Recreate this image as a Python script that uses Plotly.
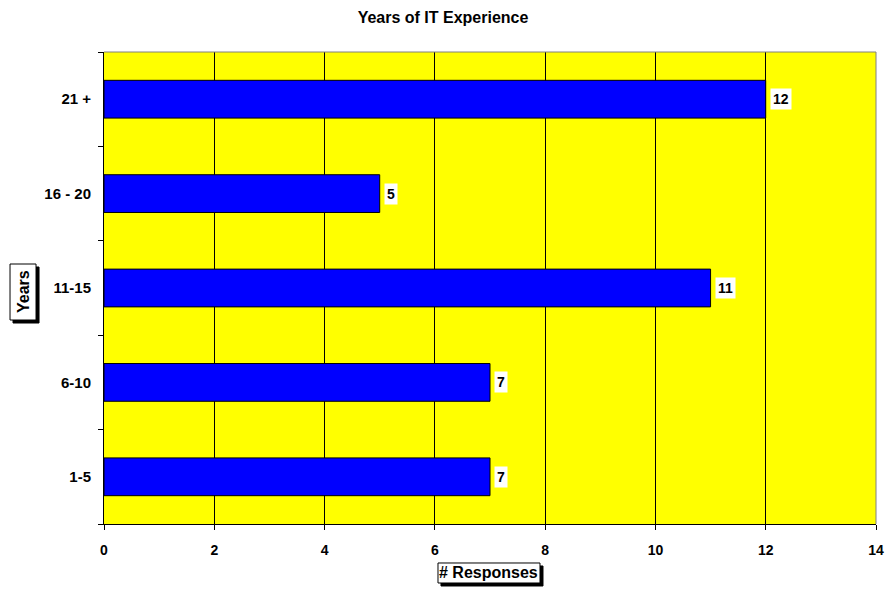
import plotly.graph_objects as go

# Survey responses by years of IT experience
categories = ["1-5", "6-10", "11-15", "16 - 20", "21 +"]
responses = [7, 7, 11, 5, 12]
x_ticks = [0, 2, 4, 6, 8, 10, 12, 14]

FONT = "Arial, Liberation Sans, sans-serif"

fig = go.Figure()
fig.add_trace(go.Bar(
    x=responses,
    y=categories,
    orientation="h",
    width=0.4,
    marker=dict(color="#0000FF", line=dict(color="black", width=1)),
    hoverinfo="x+y",
))

annotations = []
shapes = []

# value labels on white boxes just past each bar end
for c, v in zip(categories, responses):
    annotations.append(dict(
        x=v, y=c, xref="x", yref="y", text=f"<b>{v}</b>",
        showarrow=False, xanchor="left", yanchor="middle", xshift=4,
        bgcolor="white", borderpad=2,
        font=dict(family=FONT, size=14, color="black"),
    ))


# axis titles: white box with black border and a black drop shadow
def boxed(text, x, y, half_w, half_h, angle):
    shadow = dict(
        type="rect", xref="paper", yref="paper",
        xsizemode="pixel", ysizemode="pixel", xanchor=x, yanchor=y,
        x0=-half_w + 3, x1=half_w + 3, y0=-half_h - 3, y1=half_h - 3,
        fillcolor="black", line=dict(color="black", width=1), layer="above",
    )
    box = dict(
        type="rect", xref="paper", yref="paper",
        xsizemode="pixel", ysizemode="pixel", xanchor=x, yanchor=y,
        x0=-half_w, x1=half_w, y0=-half_h, y1=half_h,
        fillcolor="white", line=dict(color="black", width=1), layer="above",
    )
    label = dict(
        x=x, y=y, xref="paper", yref="paper", text=f"<b>{text}</b>",
        showarrow=False, textangle=angle, xanchor="center", yanchor="middle",
        font=dict(family=FONT, size=16, color="black"),
    )
    return [shadow, box], [label]


s, a = boxed("Years", -0.1049, 0.4915, 13, 28, -90)
shapes += s
annotations += a
s, a = boxed("# Responses", 0.4987, -0.1038, 51, 10, 0)
shapes += s
annotations += a

# top and right frame of the plot area
shapes += [
    dict(type="line", xref="paper", yref="paper", x0=0, x1=1, y0=1, y1=1,
         line=dict(color="#808080", width=1), layer="above"),
    dict(type="line", xref="paper", yref="paper", x0=1, x1=1, y0=0, y1=1,
         line=dict(color="#808080", width=1), layer="above"),
]

fig.update_layout(
    width=886, height=594,
    margin=dict(l=104, r=10, t=52, b=70, autoexpand=False),
    paper_bgcolor="white",
    plot_bgcolor="#FFFF00",
    showlegend=False,
    title=dict(
        text="<b>Years of IT Experience</b>",
        x=0.5, xanchor="center", y=1 - 17 / 594, yanchor="middle",
        font=dict(family=FONT, size=16, color="black"),
    ),
    xaxis=dict(
        range=[0, 14], tickvals=x_ticks,
        ticktext=[f"<b>{t}</b>" for t in x_ticks],
        showgrid=True, gridcolor="black", gridwidth=1,
        showline=True, linecolor="black", linewidth=1,
        ticks="outside", ticklen=5, tickcolor="black",
        tickfont=dict(family=FONT, size=14, color="black"),
        ticklabelstandoff=8,
        zeroline=False, fixedrange=True, automargin=False,
    ),
    yaxis=dict(
        categoryorder="array", categoryarray=categories,
        showgrid=False, showline=True, linecolor="black", linewidth=1,
        ticks="outside", ticklen=5, tickcolor="black", tickson="boundaries",
        tickfont=dict(family=FONT, size=15, color="black"),
        tickprefix="<b>", ticksuffix="</b>",
        ticklabelstandoff=9,
        fixedrange=True, automargin=False,
    ),
    annotations=annotations,
    shapes=shapes,
)

fig.write_html("out.html")
